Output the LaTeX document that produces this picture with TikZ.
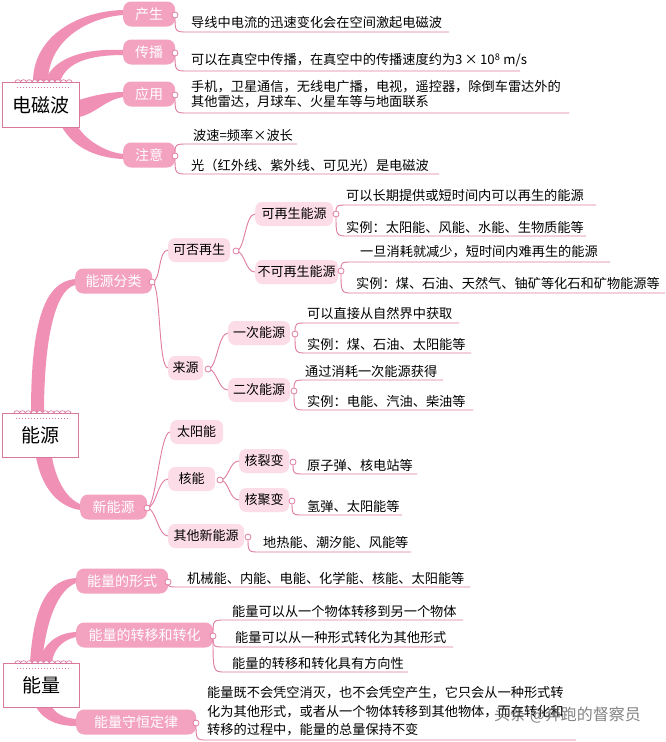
\documentclass[tikz,border=0pt]{standalone}
\usepackage{fontspec}
\setmainfont{Noto Sans CJK SC}
\usetikzlibrary{calc}
\definecolor{pkbranch}{HTML}{F090B5}
\definecolor{pkbox}{HTML}{F3A2C0}
\definecolor{pklight}{HTML}{FCDDE7}
\definecolor{pkline}{HTML}{E07CA3}
\definecolor{pkroot}{HTML}{D9789D}
\newcommand\lfl[4]{\coordinate (tmpc) at (0,#3);\draw[leafline] (#1) .. controls (#1 |- tmpc) .. (#2,#3) -- (#4,#3);}
\newcommand\lnk[2]{\draw[linkline] (#1) .. controls ([xshift=9pt]#1) and ([xshift=-10pt]#2.west) .. (#2.west);}
\newcommand\scal[2]{\foreach \i in {0,...,9}{\draw[pkroot,line width=0.7pt,fill=white] ({#1+\i*5.7},#2) .. controls ({#1+\i*5.7},#2-3) and ({#1+\i*5.7+5.7},#2-3) .. ({#1+\i*5.7+5.7},#2);}
\draw[pkroot,dotted,line width=1pt] ({#1+2},#2+5) -- ({#1+56},#2+5);}
\begin{document}
\begin{tikzpicture}[x=1pt,y=-1pt,
  rootbox/.style={draw=pkroot,line width=1.2pt,fill=white,anchor=north west,inner sep=0pt,font=\fontsize{19}{22}\selectfont},
  lvone/.style={fill=pkbox,rounded corners=8pt,text=white,anchor=west,minimum height=25pt,inner sep=0pt,font=\fontsize{14}{16}\selectfont},
  lvtwo/.style={fill=pklight,rounded corners=7pt,text=black,anchor=west,minimum height=24pt,inner sep=0pt,font=\fontsize{13}{15}\selectfont},
  knob/.style={circle,draw=pkline,fill=white,line width=0.8pt,minimum size=6pt,inner sep=0pt},
  leaf/.style={anchor=west,inner sep=0pt,font=\fontsize{13.2}{16}\selectfont},
  leafline/.style={draw=pkline,line width=0.9pt},
  linkline/.style={draw=pkline,line width=0.9pt},
  branch/.style={fill=pkbranch},
]
\useasboundingbox[fill=white] (0,0) rectangle (666,742);

% ---------- thick branches ----------
\fill[branch] (33,82) .. controls (33,35) and (80,11) .. (123,10) -- (123,15) .. controls (85,18) and (48,42) .. (48,82) -- cycle;
\fill[branch] (45,82) .. controls (52,58) and (85,48) .. (123,50) -- (123,55) .. controls (90,55) and (66,62) .. (60,82) -- cycle;
\fill[branch] (79,100) .. controls (95,95) and (110,92) .. (123,92) -- (123,97) .. controls (105,100) and (95,114) .. (79,117) -- cycle;
\fill[branch] (62,127) .. controls (75,150) and (100,158) .. (123,159) -- (123,154) .. controls (105,152) and (86,140) .. (78,127) -- cycle;

\fill[branch] (31,413) .. controls (31,320) and (45,282) .. (75,279) -- (75,285) .. controls (55,290) and (44,340) .. (44,413) -- cycle;
\fill[branch] (36,457) .. controls (42,490) and (60,507) .. (80,510) -- (80,504) .. controls (66,498) and (56,480) .. (52,457) -- cycle;

\fill[branch] (30,663) .. controls (34,600) and (50,580) .. (76,578) -- (76,583) .. controls (58,590) and (46,620) .. (42,663) -- cycle;
\fill[branch] (38,663) .. controls (45,640) and (60,633) .. (76,632) -- (76,637) .. controls (62,640) and (53,650) .. (52,663) -- cycle;
\fill[branch] (36,707) .. controls (45,722) and (60,726) .. (76,726) -- (76,719) .. controls (62,718) and (55,712) .. (52,707) -- cycle;

% ---------- root boxes ----------
\node[rootbox,minimum width=77pt,minimum height=45pt] (emw) at (2,82) {电磁波};
\scal{15}{82}
\node[rootbox,minimum width=76pt,minimum height=44pt] (ny) at (2,413) {能源};
\scal{14}{413}
\node[rootbox,minimum width=76pt,minimum height=44pt] (nl) at (3,663) {能量};
\scal{15}{663}

% ---------- level 1 ----------
\node[lvone,minimum width=52pt] (cs) at (123,14) {产生};
\node[lvone,minimum width=52pt] (cb) at (123,52) {传播};
\node[lvone,minimum width=52pt] (yy) at (123,94) {应用};
\node[lvone,minimum width=52pt] (zy) at (123,155) {注意};
\node[lvone,minimum width=77pt] (fl) at (75,281) {能源分类};
\node[lvone,minimum width=67pt] (xn) at (80,507) {新能源};
\node[lvone,minimum width=92pt] (xs) at (76,581) {能量的形式};
\node[lvone,minimum width=137pt] (zh) at (76,635) {能量的转移和转化};
\node[lvone,minimum width=120pt] (sh) at (76,722) {能量守恒定律};

% ---------- level 2/3 ----------
\node[lvtwo,minimum width=62pt] (kf) at (168,250) {可否再生};
\node[lvtwo,minimum width=35pt] (ly) at (168,368) {来源};
\node[lvtwo,minimum width=78pt] (kz) at (255,214) {可再生能源};
\node[lvtwo,minimum width=83pt] (bk) at (255,272) {不可再生能源};
\node[lvtwo,minimum width=62pt] (yc) at (228,333) {一次能源};
\node[lvtwo,minimum width=62pt] (ec) at (228,390) {二次能源};
\node[lvtwo,minimum width=53pt] (ty) at (170,432) {太阳能};
\node[lvtwo,minimum width=47pt] (hn) at (168,479) {核能};
\node[lvtwo,minimum width=76pt] (qt) at (168,536) {其他新能源};
\node[lvtwo,minimum width=50pt] (lb) at (239,461) {核裂变};
\node[lvtwo,minimum width=50pt] (jb) at (239,500) {核聚变};

% ---------- knob positions ----------
\coordinate (kcs) at (175,15);
\coordinate (kcb) at (175,53);
\coordinate (kyy) at (175,95);
\coordinate (kzy) at (175,156);
\coordinate (kfl) at (152,282);
\coordinate (kkf) at (236,251);
\coordinate (kly) at (208,369);
\coordinate (kkz) at (336,214);
\coordinate (kbk) at (341,271);
\coordinate (kyc) at (295,334);
\coordinate (kec) at (294,391);
\coordinate (kxn) at (147,508);
\coordinate (khn) at (220,480);
\coordinate (klb) at (293,462);
\coordinate (kjb) at (292,501);
\coordinate (kqt) at (248,537);
\coordinate (kxs) at (168,582);
\coordinate (kzh) at (213,636);
\coordinate (ksh) at (196,723);

% ---------- links between boxes ----------
\lnk{kfl}{kf}
\lnk{kfl}{ly}
\lnk{kkf}{kz}
\lnk{kkf}{bk}
\lnk{kly}{yc}
\lnk{kly}{ec}
\lnk{kxn}{ty}
\lnk{kxn}{hn}
\lnk{kxn}{qt}
\lnk{khn}{lb}
\lnk{khn}{jb}

% ---------- leaf underlines ----------
\lfl{kcs}{188}{32}{449}
\lfl{kcb}{188}{71}{520}
\lfl{kyy}{188}{113}{569}
\lfl{kzy}{188}{144}{297}
\lfl{kzy}{188}{174}{439}
\lfl{kkz}{348}{205}{596}
\lfl{kkz}{348}{236}{586}
\lfl{kbk}{353}{262}{610}
\lfl{kbk}{353}{293}{665}
\lfl{kyc}{307}{323}{459}
\lfl{kyc}{307}{353}{471}
\lfl{kec}{306}{380}{443}
\lfl{kec}{306}{410}{473}
\lfl{klb}{305}{474}{417}
\lfl{kjb}{304}{515}{402}
\lfl{kqt}{260}{552}{411}
\lfl{kxs}{180}{587}{470}
\lfl{kzh}{225}{620}{463}
\lfl{kzh}{225}{647}{453}
\lfl{kzh}{225}{672}{408}
\lfl{ksh}{208}{740}{576}

% ---------- knobs ----------
\foreach \k in {kcs,kcb,kyy,kzy,kfl,kkf,kly,kkz,kbk,kyc,kec,kxn,khn,klb,kjb,kqt,kxs,kzh,ksh}
  \node[knob] (\k-n) at (\k) {};

% ---------- leaf texts ----------
\node[leaf] (t1) at (191,22) {导线中电流的迅速变化会在空间激起电磁波};
\node[leaf] (t2) at (191,60) {可以在真空中传播，在真空中的传播速度约为3\,×\,10\textsuperscript{8} m/s};
\node[leaf] (t3) at (191,87) {手机，卫星通信，无线电广播，电视，遥控器，除倒车雷达外的};
\node[leaf] (t4) at (191,102) {其他雷达，月球车、火星车等与地面联系};
\node[leaf] (t5) at (193,135) {波速=频率×波长};
\node[leaf] (t6) at (191,165) {光（红外线、紫外线、可见光）是电磁波};
\node[leaf] (t7) at (346,195) {可以长期提供或短时间内可以再生的能源};
\node[leaf] (t8) at (346,227) {实例：太阳能、风能、水能、生物质能等};
\node[leaf] (t9) at (360,252) {一旦消耗就减少，短时间内难再生的能源};
\node[leaf] (t10) at (356,283) {实例：煤、石油、天然气、铀矿等化石和矿物能源等};
\node[leaf] (t11) at (307,313) {可以直接从自然界中获取};
\node[leaf] (t12) at (307,344) {实例：煤、石油、太阳能等};
\node[leaf] (t13) at (305,371) {通过消耗一次能源获得};
\node[leaf] (t14) at (307,401) {实例：电能、汽油、柴油等};
\node[leaf] (t15) at (307,465) {原子弹、核电站等};
\node[leaf] (t16) at (307,506) {氢弹、太阳能等};
\node[leaf] (t17) at (263,542) {地热能、潮汐能、风能等};
\node[leaf] (t18) at (187,578) {机械能、内能、电能、化学能、核能、太阳能等};
\node[leaf] (t19) at (232,612) {能量可以从一个物体转移到另一个物体};
\node[leaf] (t20) at (235,638) {能量可以从一种形式转化为其他形式};
\node[leaf] (t21) at (232,663) {能量的转移和转化具有方向性};
\node[leaf] (t22) at (207,693) {能量既不会凭空消灭，也不会凭空产生，它只会从一种形式转};
\node[leaf] (t23) at (207,712) {化为其他形式，或者从一个物体转移到其他物体，而在转化和};
\node[leaf] (t24) at (207,730) {转移的过程中，能量的总量保持不变};

% ---------- watermark ----------
\node[anchor=west,inner sep=0pt,font=\fontsize{16}{18}\selectfont,text=black!65,opacity=0.75] (wm) at (494,715) {头条 @奔跑的督察员};
\end{tikzpicture}
\end{document}
